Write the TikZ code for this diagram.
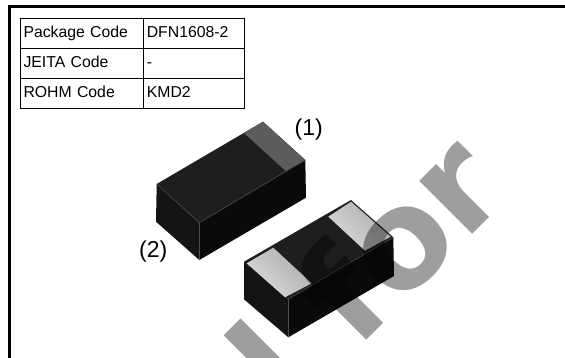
\documentclass[tikz,border=0pt]{standalone}
\usepackage{fontspec}
\setmainfont{Liberation Sans}
\newfontfamily\markfont{DejaVu Sans}[BoldFont={DejaVu Sans Bold}]
\usetikzlibrary{positioning}
\definecolor{topface}{HTML}{1E1E1E}
\definecolor{leftface}{HTML}{141414}
\definecolor{rightface}{HTML}{0A0A0A}
\definecolor{bandgray}{HTML}{5C5C5C}
\definecolor{leadgray}{HTML}{CBCBCB}
\tikzset{
	cellbox/.style={draw,
		line width=1pt,
		outer sep=0pt,
		inner sep=3.5pt,
		minimum height=29.7pt,
		text height=11.5pt,
		text depth=3.5pt,
		align=left,
		font=\fontsize{15.8}{18}\selectfont
	},
	labelcol/.style={cellbox,text width=116.3pt},
	valuecol/.style={cellbox,text width=93.7pt},
	pinlabel/.style={inner sep=0pt,font=\fontsize{23}{26}\selectfont},
	leadface/.style={left color=leadgray!85!black,right color=leadgray!70!white,shading angle=-45},
	watermark/.style={inner sep=0pt,anchor=base west,rotate=45,text=black,text opacity=0.38,
		font=\markfont\bfseries\fontsize{137}{137}\selectfont},
	chipedge/.style={draw=black!70!white,line width=0.5pt,line join=round}
}

\begin{document}
\begin{tikzpicture}[x=1pt,y=-1pt]
\path[use as bounding box,clip] (0,0) rectangle (565,358);
\fill[white] (0,0) rectangle (565,358);

% Frame
\draw[line width=3pt] (9,358) -- (9,6.5) -- (565,6.5);

% Table
\node [labelcol,anchor=north west] (pkgname) at (20,19) {Package Code};
\node [valuecol,right = 0pt of pkgname] (pkgvalue) {DFN1608-2};
\node [labelcol,below = 0pt of pkgname] (jeitaname) {JEITA Code};
\node [valuecol,right = 0pt of jeitaname] (jeitavalue) {-};
\node [labelcol,below = 0pt of jeitaname] (rohmname) {ROHM Code};
\node [valuecol,right = 0pt of rohmname] (rohmvalue) {KMD2};

% Upper chip
\fill[leftface] (156.7,184) -- (199.3,222.7) -- (199.3,260) -- (156,221.7) -- cycle;
\fill[rightface] (199.3,222.7) -- (305.3,160) -- (306,197.7) -- (199.3,260) -- cycle;
\fill[topface] (156.7,184) -- (263,121.7) -- (305.3,160) -- (199.3,222.7) -- cycle;
\fill[bandgray] (244,133) -- (263,121.7) -- (305.3,160) -- (285.7,171) -- cycle;
\draw[chipedge] (156.7,184) -- (199.3,222.7) -- (305.3,160);
\draw[chipedge] (199.3,222.7) -- (199.3,260);

% Lower chip
\fill[leftface] (244,261.7) -- (288.3,299) -- (288.3,337.3) -- (244,299.3) -- cycle;
\fill[rightface] (288.3,299) -- (393.3,237.3) -- (394,276) -- (288.3,337.3) -- cycle;
\fill[topface] (244,261.7) -- (351,200) -- (393.3,237.3) -- (288.3,299) -- cycle;
\shade[leadface] (246.7,263.3) -- (273.3,247.7) -- (311.7,283.3) -- (285,297.3) -- cycle;
\shade[leadface] (328.3,216.7) -- (351,201.7) -- (390.7,236.7) -- (365,250.7) -- cycle;
\draw[chipedge] (288.3,299) -- (393.3,237.3);
\draw[chipedge] (288.3,299) -- (288.3,337.3);

% Pin labels
\node [pinlabel] (pinone) at (308.7,130) {(1)};
\node [pinlabel] (pintwo) at (153.3,251.7) {(2)};

% Watermark
\node [watermark] (markstem) at (289.5,417.5) {l};
\node [watermark] (markfor) at (356,351) {for};

\end{tikzpicture}
\end{document}
